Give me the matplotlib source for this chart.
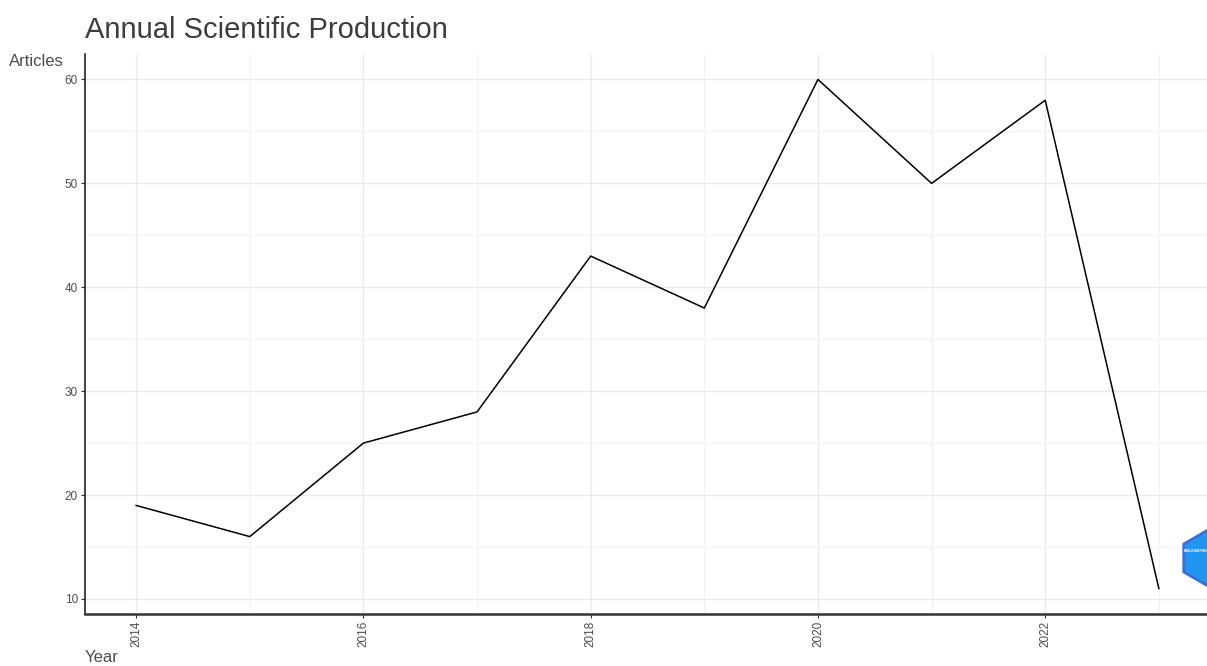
import matplotlib
matplotlib.use('Agg')
import matplotlib.pyplot as plt
from matplotlib.patches import RegularPolygon
import numpy as np

years = [2014, 2015, 2016, 2017, 2018, 2019, 2020, 2021, 2022, 2023]
articles = [19, 16, 25, 28, 43, 38, 60, 50, 58, 11]
x_ticks = [2014, 2016, 2018, 2020, 2022]
y_ticks = [10, 20, 30, 40, 50, 60]

plt.rcParams['font.family'] = ['Liberation Sans', 'DejaVu Sans']

fig = plt.figure(figsize=(12.07, 6.66), dpi=100)
ax = fig.add_axes([85 / 1207, 1 - 614 / 666, (1210 - 85) / 1207, (614 - 54) / 666])

ax.plot(years, articles, color='black', lw=1.1)

# ggplot-like expansion
ax.set_xlim(2014 - 0.45, 2023 + 0.45)
ax.set_ylim(8.55, 62.45)

ax.set_xticks(x_ticks)
ax.set_xticks(np.arange(2015, 2024, 2), minor=True)
ax.set_yticks(y_ticks)
ax.set_yticks(np.arange(15, 61, 10), minor=True)
ax.set_xticklabels([str(y) for y in x_ticks], rotation=90)

ax.grid(which='major', color='#ebebeb', lw=1.0)
ax.grid(which='minor', color='#f3f3f3', lw=0.8)
ax.set_axisbelow(True)

for s in ['top', 'right']:
    ax.spines[s].set_visible(False)
ax.spines['left'].set_linewidth(1.2)
ax.spines['bottom'].set_linewidth(1.8)
ax.spines['left'].set_color('#222222')
ax.spines['bottom'].set_color('#333333')

ax.tick_params(axis='both', which='major', length=3, width=0.8, color='#333333',
               labelsize=8.5, labelcolor='#4d4d4d', pad=2)
ax.tick_params(axis='both', which='minor', length=0)

fig.text(85 / 1207, 1 - 30 / 666, 'Annual Scientific Production', fontsize=21,
         color='#3d3d3d', ha='left', va='center')
fig.text(9 / 1207, 1 - 62 / 666, 'Articles', fontsize=12, color='#4d4d4d',
         ha='left', va='center')
fig.text(85 / 1207, 1 - 658 / 666, 'Year', fontsize=12, color='#4d4d4d',
         ha='left', va='center')

# logo (cut off at the right edge)
hexa = RegularPolygon((1208, 666 - 558), numVertices=6, radius=28, orientation=0,
                      facecolor='#2196f0', edgecolor='#3b6fd6', lw=2,
                      transform=None, zorder=5)
fig.patches.append(hexa)
fig.text(1184 / 1207, 1 - 551 / 666, 'BIBLIOMETRIX', fontsize=2.4, color='white',
         fontweight='bold', ha='left', va='center', zorder=6)

fig.savefig('out.png', dpi=100)
